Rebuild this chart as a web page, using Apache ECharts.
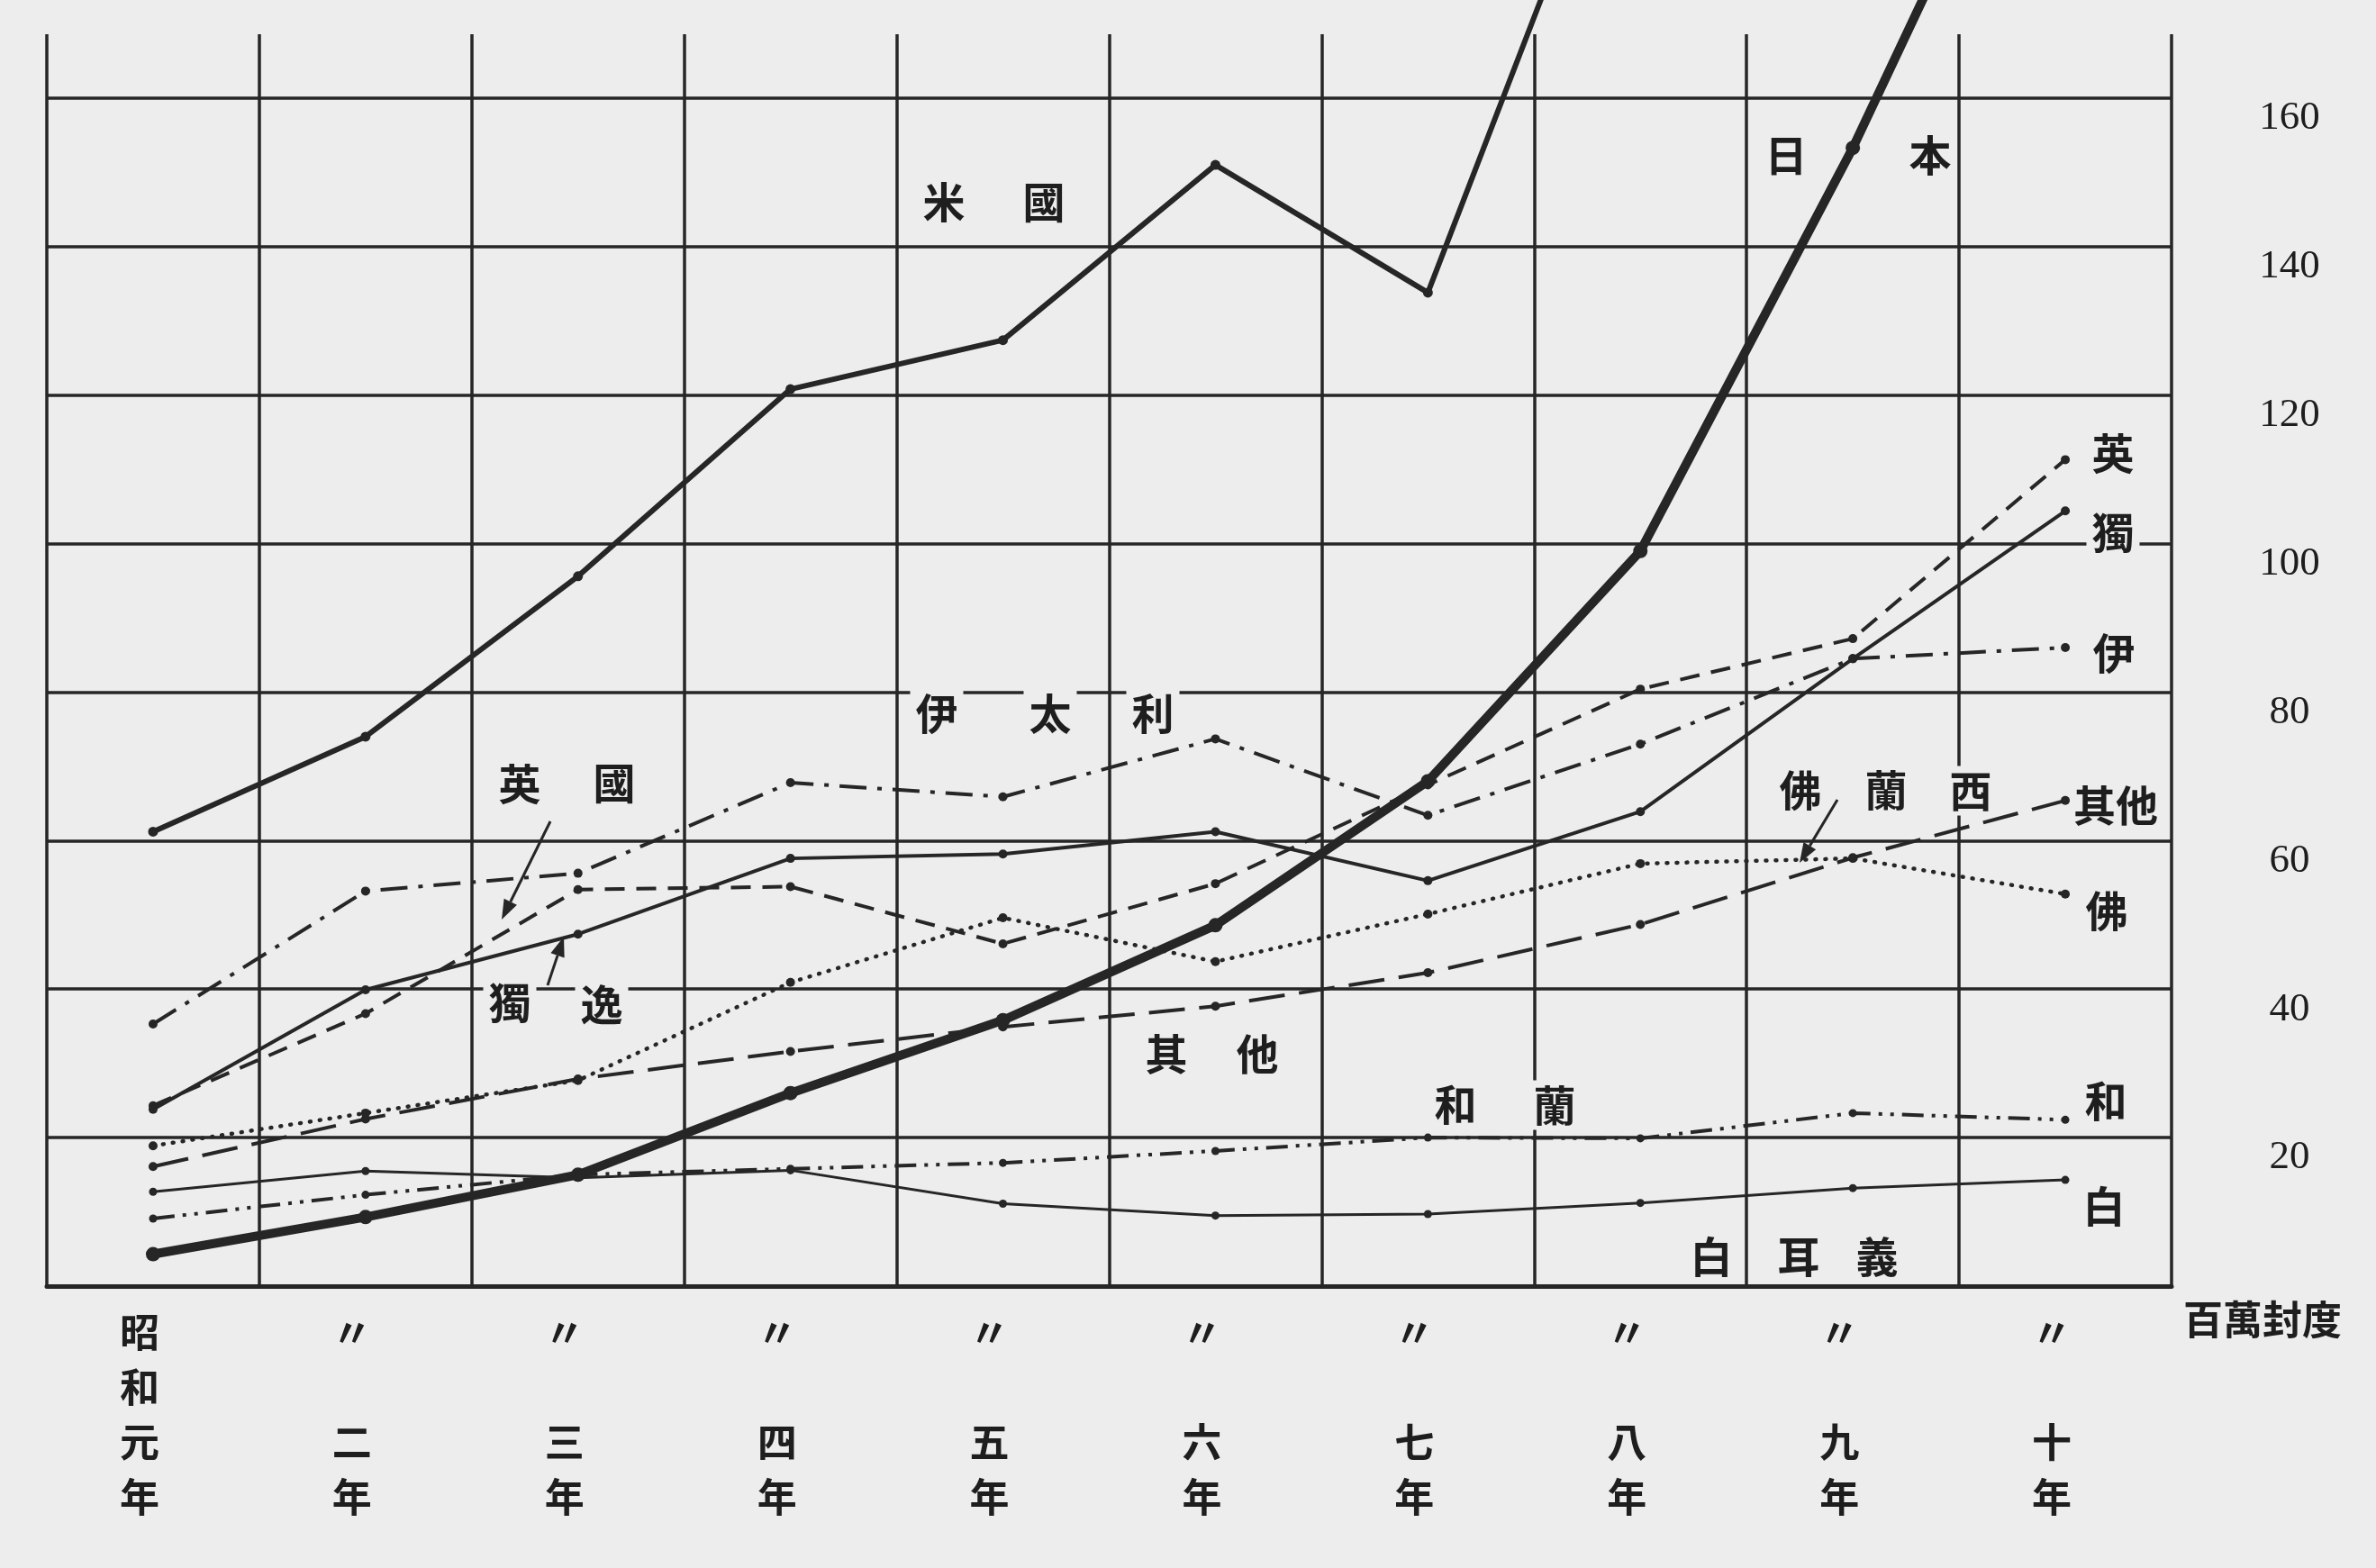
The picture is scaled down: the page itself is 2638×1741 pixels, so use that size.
<!DOCTYPE html>
<html>
<head>
<meta charset="utf-8">
<script src="https://cdn.jsdelivr.net/npm/echarts@6/dist/echarts.min.js"></script>
<style>
html,body{margin:0;padding:0;background:#ededed;}
#chart{width:2638px;height:1741px;}
</style>
</head>
<body>
<div id="chart"></div>
<script>
// ---- data ----
const categories = ['昭和元年','昭和二年','昭和三年','昭和四年','昭和五年','昭和六年','昭和七年','昭和八年','昭和九年','昭和十年'];
const xTickLabels = ['昭\n和\n元\n年','〃\n\n二\n年','〃\n\n三\n年','〃\n\n四\n年','〃\n\n五\n年','〃\n\n六\n年','〃\n\n七\n年','〃\n\n八\n年','〃\n\n九\n年','〃\n\n十\n年'];
const yTickValues = [20, 40, 60, 80, 100, 120, 140, 160];
const usa         = [61.2, 74.0, 95.6, 120.8, 127.4, 151.0, 133.8, 208, 222, 236];
const japan       = [4.3, 9.3, 15.0, 26.0, 35.8, 48.6, 68.0, 99.0, 153.3, 214];
const britain     = [24.3, 36.7, 53.4, 53.8, 46.1, 54.2, 67.5, 80.4, 87.2, 111.3];
const germany     = [23.8, 39.9, 47.4, 57.6, 58.2, 61.2, 54.6, 63.9, 84.5, 104.4];
const italy       = [35.3, 53.2, 55.6, 67.8, 65.9, 73.7, 63.4, 73.0, 84.5, 86.0];
const france      = [18.9, 23.3, 27.7, 40.9, 49.6, 43.7, 50.1, 56.9, 57.6, 52.8];
const others      = [16.1, 22.5, 27.9, 31.6, 34.9, 37.7, 42.2, 48.7, 57.7, 65.4];
const netherlands = [9.1, 12.3, 15.0, 15.8, 16.6, 18.2, 20.0, 19.9, 23.3, 22.4];
const belgium     = [12.7, 15.5, 14.6, 15.6, 11.1, 9.5, 9.7, 11.2, 13.2, 14.3];

// ---- styling ----
const INK = '#262626';
const PAPER = '#ededed';
const CJK = '"Noto Sans CJK JP","Noto Sans CJK TC",sans-serif';

function lineSeries(name, data, width, type, symSize, cap) {
  return {
    name: name, type: 'line', data: data, clip: false,
    symbol: 'circle', symbolSize: symSize, showSymbol: true,
    itemStyle: { color: INK },
    lineStyle: { color: INK, width: width, type: type, cap: cap || 'butt' },
    emphasis: { disabled: true }, z: 3
  };
}

// annotation characters (pixel positions)
const annotations = [
  ['米',1048,224],['國',1159,224],
  ['日',1983,172],['本',2143,172],
  ['伊',1040,792],['太',1166,792],['利',1280,792],
  ['英',577,870],['國',682,869],
  ['獨',566,1113],['逸',668,1115],
  ['其',1295,1170],['他',1396,1170],
  ['和',1616,1226],['蘭',1726,1227],
  ['白',1900,1395],['耳',1997,1395],['義',2084,1395],
  ['佛',1999,877],['蘭',2094,877],['西',2188,878],
  ['英',2346,503],['獨',2346,591],['伊',2347,725],
  ['其他',2349,894],['佛',2339,1011],['和',2338,1222],['白',2336,1339]
];
const arrows = [
  [611,912,557,1021],
  [608,1094,626,1040],
  [2040,888,1998,958]
];

const graphics = [];
annotations.forEach(function(a){
  graphics.push({
    type:'text', z: 1,
    style:{ text:a[0], x:a[1], y:a[2], align:'center', verticalAlign:'middle',
      textAlign:'center', textVerticalAlign:'middle',
      font:'bold 47px ' + CJK, fill:'#1e1e1e',
      backgroundColor: PAPER, padding:[4,6] }
  });
});
arrows.forEach(function(a){
  const dx = a[2]-a[0], dy = a[3]-a[1];
  const len = Math.sqrt(dx*dx+dy*dy), ux = dx/len, uy = dy/len;
  const hl = 22, hw = 8;
  const bx = a[2]-ux*hl, by = a[3]-uy*hl;
  graphics.push({ type:'line', z: 4, shape:{x1:a[0],y1:a[1],x2:bx,y2:by},
    style:{stroke:INK, lineWidth:3} });
  graphics.push({ type:'polygon', z: 4, shape:{points:[[a[2],a[3]],[bx-uy*hw,by+ux*hw],[bx+uy*hw,by-ux*hw]]},
    style:{fill:INK} });
});
graphics.push({ type:'text', z:1,
  style:{ text:'百萬封度', x:2512, y:1465, align:'center', verticalAlign:'middle',
    textAlign:'center', textVerticalAlign:'middle',
    font:'bold 44px ' + CJK, fill:'#1e1e1e' } });

const chart = echarts.init(document.getElementById('chart'), null, {renderer:'canvas'});
chart.setOption({
  backgroundColor: PAPER,
  animation: false,
  grid: { left: 52, right: 227, top: 38, bottom: 313, containLabel: false },
  xAxis: {
    type: 'category', data: categories, boundaryGap: true,
    axisLine: { show: true, lineStyle: { color: INK, width: 5 } },
    axisTick: { show: false },
    splitLine: { show: true, interval: 0, lineStyle: { color: INK, width: 3.5 } },
    axisLabel: {
      interval: 0, margin: 21, color: '#1e1e1e',
      fontFamily: CJK, fontSize: 44, fontWeight: 'bold', lineHeight: 61,
      padding: [0, 30, 0, 0],
      formatter: function(v, i){ return xTickLabels[i]; }
    }
  },
  yAxis: {
    type: 'value', position: 'right', min: 0, max: 168.6, interval: 20,
    axisLine: { show: false }, axisTick: { show: false },
    splitLine: { show: true, lineStyle: { width: 3.5,
      color: [INK,INK,INK,INK,INK,INK,INK,INK,INK,'rgba(0,0,0,0)'] } },
    axisLabel: {
      margin: 131, align: 'center', verticalAlign: 'top', color: '#1e1e1e',
      fontFamily: '"Liberation Serif","DejaVu Serif",serif', fontSize: 45,
      formatter: function(v){ return yTickValues.indexOf(v) >= 0 ? String(v) : ''; }
    }
  },
  series: [
    lineSeries('米國', usa, 6, 'solid', 11),
    lineSeries('日本', japan, 10, 'solid', 16),
    lineSeries('英國', britain, 4, [22,13], 10),
    lineSeries('獨逸', germany, 4, 'solid', 10),
    lineSeries('伊太利', italy, 4, [30,12,5,12], 10),
    lineSeries('佛蘭西', france, 4.5, [1,10], 10, 'round'),
    lineSeries('其他', others, 4, [40,16], 10),
    lineSeries('和蘭', netherlands, 4, [24,9,4,9,4,9], 9),
    lineSeries('白耳義', belgium, 3, 'solid', 9)
  ],
  graphic: { elements: graphics }
});
</script>
</body>
</html>
